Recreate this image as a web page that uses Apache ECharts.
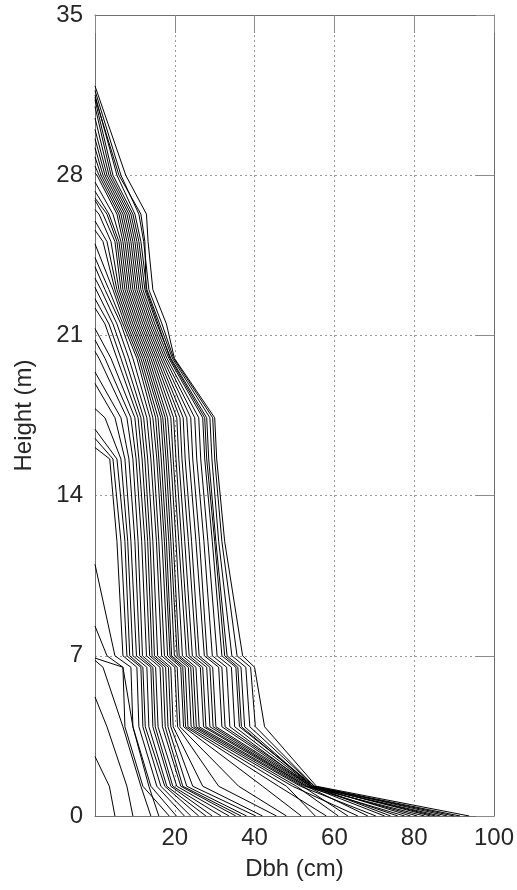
<!DOCTYPE html>
<html>
<head>
<meta charset="utf-8">
<script src="https://cdn.jsdelivr.net/npm/echarts@6/dist/echarts.min.js"></script>
<style>
html,body{margin:0;padding:0;background:#fff;}
#chart{width:517px;height:890px;}
</style>
</head>
<body>
<div id="chart"></div>
<script>
// Section heights (m) at which stem diameters were read
const sectionHeights = [0, 1.3, 3.9, 6.5, 7.0, 12.0, 15.6, 17.4, 20.0, 21.5, 23.0, 25.1, 26.3, 28.0];

// Diameter (cm) of each tree at each section height (null = above tree top)
const dAt0_0 = [5, 9.5, 14, 16, 18.6, 20.4, 22.4, 24, 26, 27.8, 29.4, 31.6, 33.6, 35.3, 36.6, 38, 40.3, 42, 45.5, 48, 51.7, 58, 55.2, 65.9, 61, 70.4, 63.4, 77.6, 68.4, 82.6, 72.6, 75.9, 86.6, 74.1, 80.8, 90, 79.1, 85.3, 84.1, 88.3, 93.8, 91.5];
const dAt1_3 = [3.6, 8.0, 11.5, 13.5, 12.0, 14.0, 15.5, 16.5, 17.5, 18.0, 19.0, 19.5, 20.5, 21.5, 22.0, 23.0, 24.5, 27.0, 31.0, 36.0, 42.0, 46.0, 48.0, 49.5, 50.5, 51.5, 52.0, 52.5, 53.0, 53.0, 53.5, 54.0, 54.0, 54.5, 54.0, 54.5, 55.0, 54.5, 55.0, 55.0, 55.5, 54.5];
const dAt3_9 = [null, 3.0, 7.0, 9.5, 7.5, 9.5, 11.0, 12.0, 12.6, 13.5, 14.5, 15.1, 15.8, 16.9, 17.6, 18.3, 19.0, 19.6, 20.7, 21.3, 22.2, 22.7, 23.3, 24.1, 24.8, 25.4, 26.1, 27.2, 27.8, 28.8, 29.6, 30.3, 31.8, 32.6, 33.8, 35.0, 36.2, 37.5, 38.8, 40.2, 42.5, 36.7];
const dAt6_5 = [null, null, 2.0, 7.0, 7.0, 9.0, 10.5, 11.5, 12.0, 13.0, 14.0, 14.5, 15.2, 16.3, 17.0, 17.7, 18.4, 19.0, 20.0, 20.6, 21.5, 22.0, 22.6, 23.4, 24.0, 24.6, 25.3, 26.4, 27.0, 28.0, 28.8, 29.5, 31.0, 31.8, 33.0, 34.2, 35.3, 36.6, 37.8, 39.0, 40.0, 35.8];
const dAt7_0 = [null, null, null, null, 3.0, 5.0, 7.0, 8.0, 8.7, 9.5, 10.4, 11.2, 11.9, 12.9, 13.7, 14.3, 14.9, 15.7, 16.7, 17.4, 18.2, 18.8, 19.2, 19.9, 20.6, 21.1, 21.9, 22.9, 23.6, 24.4, 25.4, 26.1, 27.4, 28.1, 29.4, 30.6, 31.8, 33.1, 34.3, 35.6, 37.0, 32.5];
const dAt12_0 = [null, null, null, null, null, null, 5.5, 6.5, 7.5, 8.2, 9.0, 10.0, 10.8, 11.7, 12.5, 13.2, 13.8, 14.5, 15.4, 16.0, 16.8, 17.4, 17.9, 18.5, 19.0, 19.6, 20.3, 21.0, 21.7, 22.5, 23.4, 24.2, 25.3, 26.2, 27.3, 28.3, 29.4, 30.3, 31.0, 31.8, 32.5, 30.0];
const dAt15_6 = [null, null, null, null, null, null, 3.7, 4.5, 5.5, 6.5, 7.5, 8.5, 9.5, 10.3, 11.0, 11.8, 12.5, 13.2, 14.0, 14.7, 15.5, 16.0, 16.6, 17.2, 17.8, 18.3, 19.0, 19.6, 20.3, 21.0, 21.8, 22.6, 23.6, 24.5, 25.5, 26.5, 27.5, 28.5, 29.3, 30.0, 30.5, 28.0];
const dAt17_4 = [null, null, null, null, null, null, null, null, null, 2.5, 5.0, 6.5, 8.0, 9.0, 10.0, 10.8, 11.5, 12.2, 13.0, 13.8, 14.5, 15.2, 15.8, 16.5, 17.0, 17.6, 18.2, 19.0, 19.7, 20.5, 21.3, 22.1, 23.0, 24.0, 25.0, 26.0, 27.0, 28.0, 28.8, 29.5, 30.0, 27.5];
const dAt20_0 = [null, null, null, null, null, null, null, null, null, null, null, null, 1.0, 2.5, 4.0, 5.5, 6.5, 7.5, 8.5, 9.5, 10.5, 11.0, 11.5, 12.0, 12.5, 13.0, 13.5, 14.0, 14.5, 15.0, 15.5, 16.0, 16.5, 17.0, 17.5, 18.0, 18.5, 19.0, 19.4, 19.7, 19.9, 18.8];
const dAt21_5 = [null, null, null, null, null, null, null, null, null, null, null, null, null, null, null, 2.5, 3.5, 4.5, 5.5, 6.5, 7.0, 7.5, 8.0, 8.5, 9.0, 9.5, 10.0, 10.5, 11.0, 11.5, 12.0, 12.5, 13.0, 13.5, 14.0, 14.5, 15.0, 15.5, 16.2, 16.8, 17.9, 15.8];
const dAt23_0 = [null, null, null, null, null, null, null, null, null, null, null, null, null, null, null, null, null, null, 1.5, 2.5, 3.5, 4.5, 5.0, 5.5, 6.0, 6.5, 7.0, 7.5, 8.0, 8.5, 9.0, 9.5, 10.0, 10.5, 11.0, 11.5, 12.0, 12.5, 13.0, 13.5, 14.5, 12.8];
const dAt25_1 = [null, null, null, null, null, null, null, null, null, null, null, null, null, null, null, null, null, null, null, null, null, null, 2.0, 3.0, 4.0, 5.0, 5.5, 6.0, 6.5, 7.0, 7.5, 8.0, 8.5, 9.0, 9.5, 10.0, 10.5, 11.0, 11.5, 12.2, 13.3, 12.5];
const dAt26_3 = [null, null, null, null, null, null, null, null, null, null, null, null, null, null, null, null, null, null, null, null, null, null, null, null, 1.0, 2.0, 3.0, 3.5, 4.5, 5.5, 6.0, 6.5, 7.0, 7.5, 8.0, 8.5, 9.0, 9.5, 10.0, 11.0, 12.9, 11.5];
const dAt28_0 = [null, null, null, null, null, null, null, null, null, null, null, null, null, null, null, null, null, null, null, null, null, null, null, null, null, null, null, null, null, 0.5, 1.0, 1.5, 2.0, 2.5, 3.0, 3.5, 4.0, 4.5, 5.5, 6.5, 7.7, 6.0];

// Total tree height (m), where diameter reaches 0
const treeTops = [2.6, 5.2, 6.8, 6.9, 8.3, 11.0, 16.1, 16.5, 16.9, 17.8, 18.9, 19.4, 20.3, 20.8, 21.3, 22.2, 22.6, 23.1, 23.5, 24.0, 24.4, 25.0, 25.6, 26.0, 26.5, 26.9, 27.0, 27.3, 27.7, 28.1, 28.4, 28.8, 29.2, 29.6, 30.0, 30.5, 31.0, 31.3, 31.5, 31.7, 31.9, 31.4];

// Axis ticks
const xTicks = [0, 20, 40, 60, 80, 100];
const yTicks = [0, 7, 14, 21, 28, 35];

const columns = [dAt0_0, dAt1_3, dAt3_9, dAt6_5, dAt7_0, dAt12_0, dAt15_6, dAt17_4, dAt20_0, dAt21_5, dAt23_0, dAt25_1, dAt26_3, dAt28_0];

const series = treeTops.map((top, i) => {
  const pts = [];
  columns.forEach((col, k) => {
    if (col[i] !== null && col[i] !== undefined) pts.push([col[i], sectionHeights[k]]);
  });
  pts.push([0, top]);
  return {
    type: 'line',
    data: pts,
    xAxisIndex: 0,
    yAxisIndex: 0,
    showSymbol: false,
    symbol: 'none',
    silent: true,
    lineStyle: { color: '#000', width: 1 },
    z: 3
  };
});

const FONT = 'Liberation Sans, Arial, Helvetica, sans-serif';
const gridLine = { show: true, lineStyle: { color: '#9a9a9a', width: 1, type: [2, 3] } };
const frame = { show: true, onZero: false, lineStyle: { color: '#6e6e6e', width: 1 } };

const chart = echarts.init(document.getElementById('chart'), null, { renderer: 'canvas' });
chart.setOption({
  animation: false,
  backgroundColor: '#fff',
  grid: { left: 95, right: 20, top: 15, bottom: 74, containLabel: false },
  xAxis: [
    {
      type: 'value', position: 'bottom',
      min: xTicks[0], max: xTicks[xTicks.length - 1], interval: xTicks[1] - xTicks[0],
      name: 'Dbh (cm)', nameLocation: 'middle', nameGap: 41,
      nameTextStyle: { fontSize: 24, color: '#262626', fontFamily: FONT },
      axisLine: frame,
      axisTick: { show: false },
      axisLabel: { fontSize: 24, color: '#262626', fontFamily: FONT, margin: 10, showMinLabel: false },
      splitLine: gridLine
    },
    {
      type: 'value', position: 'top',
      min: xTicks[0], max: xTicks[xTicks.length - 1], interval: xTicks[1] - xTicks[0],
      axisLine: frame,
      axisTick: { show: true, inside: true, length: 18, lineStyle: { color: '#8a8a8a' } },
      axisLabel: { show: false },
      splitLine: { show: false }
    }
  ],
  yAxis: [
    {
      type: 'value', position: 'left',
      min: yTicks[0], max: yTicks[yTicks.length - 1], interval: yTicks[1] - yTicks[0],
      name: 'Height (m)', nameLocation: 'middle', nameGap: 59, nameRotate: 90,
      nameTextStyle: { fontSize: 24, color: '#262626', fontFamily: FONT },
      axisLine: frame,
      axisTick: { show: false },
      axisLabel: { fontSize: 24, color: '#262626', fontFamily: FONT, margin: 12 },
      splitLine: gridLine
    },
    {
      type: 'value', position: 'right',
      min: yTicks[0], max: yTicks[yTicks.length - 1], interval: yTicks[1] - yTicks[0],
      axisLine: frame,
      axisTick: { show: true, inside: true, length: 18, lineStyle: { color: '#8a8a8a' } },
      axisLabel: { show: false },
      splitLine: { show: false }
    }
  ],
  series: series
});
</script>
</body>
</html>
